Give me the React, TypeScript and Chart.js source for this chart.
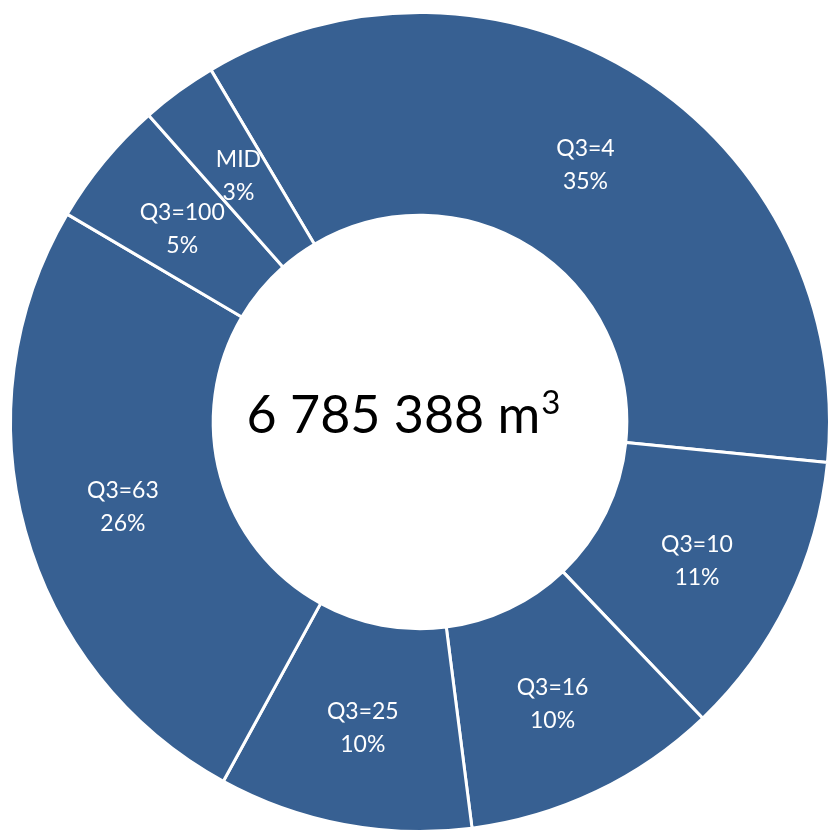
import React, { useEffect, useRef } from "react";
import { Chart, registerables } from "chart.js";

Chart.register(...registerables);

const categories = ["Q3=4", "Q3=10", "Q3=16", "Q3=25", "Q3=63", "Q3=100", "MID"];
const shares = [35.1, 11.3, 10.1, 10.0, 25.5, 5.0, 3.0];
const totalText = "6 785 388 m";
const totalSup = "3";

const FONT = "Lato, 'Open Sans', sans-serif";

const labelPlugin = {
  id: "sliceLabels",
  afterDatasetsDraw(chart: any) {
    const ctx = chart.ctx;
    const meta = chart.getDatasetMeta(0);
    const data = chart.data.datasets[0].data as number[];
    const total = data.reduce((a, b) => a + b, 0);
    ctx.save();
    ctx.fillStyle = "#ffffff";
    ctx.textAlign = "center";
    ctx.textBaseline = "middle";
    ctx.font = `23px ${FONT}`;
    meta.data.forEach((arc: any, i: number) => {
      const p = arc.tooltipPosition();
      const pct = Math.round((data[i] / total) * 100) + "%";
      ctx.fillText(String(chart.data.labels[i]), p.x, p.y - 13);
      ctx.fillText(pct, p.x, p.y + 20);
    });
    // centre text
    const first = meta.data[0];
    const cx = first.x - 17;
    const baseY = first.y + 11;
    ctx.fillStyle = "#000000";
    ctx.textBaseline = "alphabetic";
    ctx.textAlign = "left";
    ctx.font = `52px ${FONT}`;
    const w1 = ctx.measureText(totalText).width;
    ctx.font = `33px ${FONT}`;
    const w2 = ctx.measureText(totalSup).width;
    const x0 = cx - (w1 + w2) / 2;
    ctx.font = `52px ${FONT}`;
    ctx.fillText(totalText, x0, baseY);
    ctx.font = `33px ${FONT}`;
    ctx.fillText(totalSup, x0 + w1 + 1, baseY - 19);
    ctx.restore();
  },
};

export default function App() {
  const ref = useRef<HTMLCanvasElement>(null);
  useEffect(() => {
    if (!ref.current) return;
    const chart = new Chart(ref.current, {
      type: "doughnut",
      data: {
        labels: categories,
        datasets: [
          {
            data: shares,
            backgroundColor: "#376092",
            borderColor: "#ffffff",
            borderWidth: 3,
            hoverOffset: 0,
          },
        ],
      },
      options: {
        animation: false,
        responsive: false,
        maintainAspectRatio: false,
        rotation: -30.7,
        cutout: "50.5%",
        layout: { padding: { left: 9, right: 1, top: 11, bottom: 12 } },
        plugins: {
          legend: { display: false },
          tooltip: { enabled: false },
        },
      },
      plugins: [labelPlugin],
    });
    return () => chart.destroy();
  }, []);
  return (
    <div
      style={{
        position: "absolute",
        left: 0,
        top: 0,
        width: 830,
        height: 831,
        overflow: "hidden",
        background: "#ffffff",
      }}
    >
      <canvas ref={ref} width={832} height={845} style={{ display: "block", width: 832, height: 845 }} />
    </div>
  );
}
